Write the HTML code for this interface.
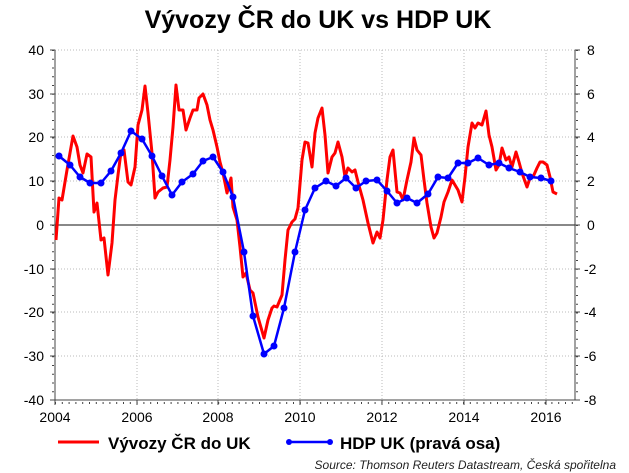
<!DOCTYPE html>
<html><head><meta charset="utf-8"><style>body{margin:0;background:#fff}svg{display:block}</style></head><body>
<svg width="629" height="473" viewBox="0 0 629 473" xmlns="http://www.w3.org/2000/svg" font-family="Liberation Sans, Arial, sans-serif">
<text x="318" y="28" text-anchor="middle" font-size="25" font-weight="bold">Vývozy ČR do UK vs HDP UK</text>
<g stroke="#bbb" stroke-width="1" stroke-dasharray="1,2">
<line x1="55" y1="50" x2="575" y2="50"/><line x1="55" y1="94" x2="575" y2="94"/><line x1="55" y1="137" x2="575" y2="137"/><line x1="55" y1="181" x2="575" y2="181"/>
<line x1="55" y1="269" x2="575" y2="269"/><line x1="55" y1="312" x2="575" y2="312"/><line x1="55" y1="356" x2="575" y2="356"/>
<line x1="137" y1="50" x2="137" y2="400"/><line x1="218" y1="50" x2="218" y2="400"/><line x1="300" y1="50" x2="300" y2="400"/><line x1="382" y1="50" x2="382" y2="400"/><line x1="464" y1="50" x2="464" y2="400"/><line x1="546" y1="50" x2="546" y2="400"/>
</g>
<line x1="55" y1="225" x2="575" y2="225" stroke="#888" stroke-width="2"/>
<g stroke="#444" stroke-width="1" fill="none">
<path d="M55 50V400H575V50"/>
<path d="M50 50h5M50 94h5M50 137h5M50 181h5M50 225h5M50 269h5M50 312h5M50 356h5M50 400h5M575 50h5M575 94h5M575 137h5M575 181h5M575 225h5M575 269h5M575 312h5M575 356h5M575 400h5M55 400v5M137 400v5M218 400v5M300 400v5M382 400v5M464 400v5M546 400v5"/>
<path d="M55 400" stroke-dasharray="1,9.1" d="M55.5 72V400" />
</g>
<g stroke="#444" stroke-width="2" stroke-dasharray="1,7.75"><line x1="53" y1="50" x2="53" y2="400"/><line x1="577" y1="50" x2="577" y2="400"/></g>
<g stroke="#444" stroke-width="2" stroke-dasharray="1,5.8"><line x1="55" y1="403" x2="575" y2="403"/></g>
<g font-size="14" text-anchor="end">
<text x="44" y="55">40</text><text x="44" y="99">30</text><text x="44" y="142">20</text><text x="44" y="186">10</text><text x="44" y="230">0</text><text x="44" y="274">-10</text><text x="44" y="317">-20</text><text x="44" y="361">-30</text><text x="44" y="405">-40</text>
</g>
<g font-size="14" text-anchor="start">
<text x="587" y="55">8</text><text x="587" y="99">6</text><text x="587" y="142">4</text><text x="587" y="186">2</text><text x="587" y="230">0</text><text x="584" y="274">-2</text><text x="584" y="317">-4</text><text x="584" y="361">-6</text><text x="584" y="405">-8</text>
</g>
<g font-size="14" text-anchor="middle">
<text x="55" y="422">2004</text><text x="137" y="422">2006</text><text x="218" y="422">2008</text><text x="300" y="422">2010</text><text x="382" y="422">2012</text><text x="464" y="422">2014</text><text x="546" y="422">2016</text>
</g>
<polyline fill="none" stroke="#f00" stroke-width="3" stroke-linejoin="round" points="56,240 59,198 62,200 67,170 73,136 77,147 80,165 83,173 87,154 91,157 94,212 97,203 101,240 104,238 108,275 112,243 115,200 118,175 121,152 124,150 128,182 131,185 135,167 138,125 142,110 145,86 148,113 152,153 155,198 158,192 163,188 167,187 170,160 173,127 176,85 179,110 183,110 186,130 190,118 193,110 197,110 199,98 203,94 207,105 210,120 213,130 217,147 220,162 223,173 227,193 231,178 233,207 237,220 240,247 243,277 246,273 250,290 253,293 258,317 264,338 268,320 272,308 274,306 277,307 282,295 285,260 288,230 292,222 295,219 298,208 302,160 305,142 308,143 312,167 315,133 318,118 322,108 325,135 328,173 332,157 335,153 338,142 342,157 345,177 348,168 352,172 355,170 358,182 363,200 368,223 373,243 377,232 380,238 383,220 387,180 390,157 393,150 397,192 400,193 403,200 407,180 411,162 414,138 417,150 421,155 424,180 427,203 431,227 434,238 437,233 441,217 444,202 448,192 452,180 455,185 458,190 462,202 465,177 468,147 472,123 475,128 478,123 482,125 486,111 489,135 492,147 496,170 499,165 502,148 506,160 509,157 512,167 516,152 519,162 522,173 527,187 530,178 533,177 537,168 540,162 543,162 547,165 550,177 553,192 557,194"/>
<g fill="#00f">
<polyline fill="none" stroke="#00f" stroke-width="2.5" stroke-linejoin="round" points="59,156 70,165 80,177 90,183 101,183 111,171 121,153 131,131 142,139 152,156 162,176 172,195 182,182 193,174 203,161 213,157 223,172 233,197 244,252 253,316 264,354 274,346 284,308 295,252 305,210 315,188 326,181 336,186 346,178 356,188 366,181 377,180 387,191 397,203 407,198 417,203 428,194 438,177 448,178 458,163 468,163 478,158 489,165 499,163 509,168 520,172 530,177 541,178 551,181"/>
<circle cx="59" cy="156" r="3.5"/><circle cx="70" cy="165" r="3.5"/><circle cx="80" cy="177" r="3.5"/><circle cx="90" cy="183" r="3.5"/><circle cx="101" cy="183" r="3.5"/><circle cx="111" cy="171" r="3.5"/><circle cx="121" cy="153" r="3.5"/><circle cx="131" cy="131" r="3.5"/><circle cx="142" cy="139" r="3.5"/><circle cx="152" cy="156" r="3.5"/><circle cx="162" cy="176" r="3.5"/><circle cx="172" cy="195" r="3.5"/><circle cx="182" cy="182" r="3.5"/><circle cx="193" cy="174" r="3.5"/><circle cx="203" cy="161" r="3.5"/><circle cx="213" cy="157" r="3.5"/><circle cx="223" cy="172" r="3.5"/><circle cx="233" cy="197" r="3.5"/><circle cx="244" cy="252" r="3.5"/><circle cx="253" cy="316" r="3.5"/><circle cx="264" cy="354" r="3.5"/><circle cx="274" cy="346" r="3.5"/><circle cx="284" cy="308" r="3.5"/><circle cx="295" cy="252" r="3.5"/><circle cx="305" cy="210" r="3.5"/><circle cx="315" cy="188" r="3.5"/><circle cx="326" cy="181" r="3.5"/><circle cx="336" cy="186" r="3.5"/><circle cx="346" cy="178" r="3.5"/><circle cx="356" cy="188" r="3.5"/><circle cx="366" cy="181" r="3.5"/><circle cx="377" cy="180" r="3.5"/><circle cx="387" cy="191" r="3.5"/><circle cx="397" cy="203" r="3.5"/><circle cx="407" cy="198" r="3.5"/><circle cx="417" cy="203" r="3.5"/><circle cx="428" cy="194" r="3.5"/><circle cx="438" cy="177" r="3.5"/><circle cx="448" cy="178" r="3.5"/><circle cx="458" cy="163" r="3.5"/><circle cx="468" cy="163" r="3.5"/><circle cx="478" cy="158" r="3.5"/><circle cx="489" cy="165" r="3.5"/><circle cx="499" cy="163" r="3.5"/><circle cx="509" cy="168" r="3.5"/><circle cx="520" cy="172" r="3.5"/><circle cx="530" cy="177" r="3.5"/><circle cx="541" cy="178" r="3.5"/><circle cx="551" cy="181" r="3.5"/>
</g>
<line x1="58" y1="442" x2="99" y2="442" stroke="#f00" stroke-width="3"/>
<text x="108" y="449" font-size="17" font-weight="bold">Vývozy ČR do UK</text>
<line x1="289" y1="442" x2="330" y2="442" stroke="#00f" stroke-width="2.5"/>
<circle cx="289" cy="442" r="3" fill="#00f"/><circle cx="330" cy="442" r="3" fill="#00f"/>
<text x="340" y="449" font-size="17" font-weight="bold">HDP UK (pravá osa)</text>
<text x="616" y="469" font-size="12" font-style="italic" text-anchor="end" fill="#222">Source: Thomson Reuters Datastream, Česká spořitelna</text>
</svg>
</body></html>
